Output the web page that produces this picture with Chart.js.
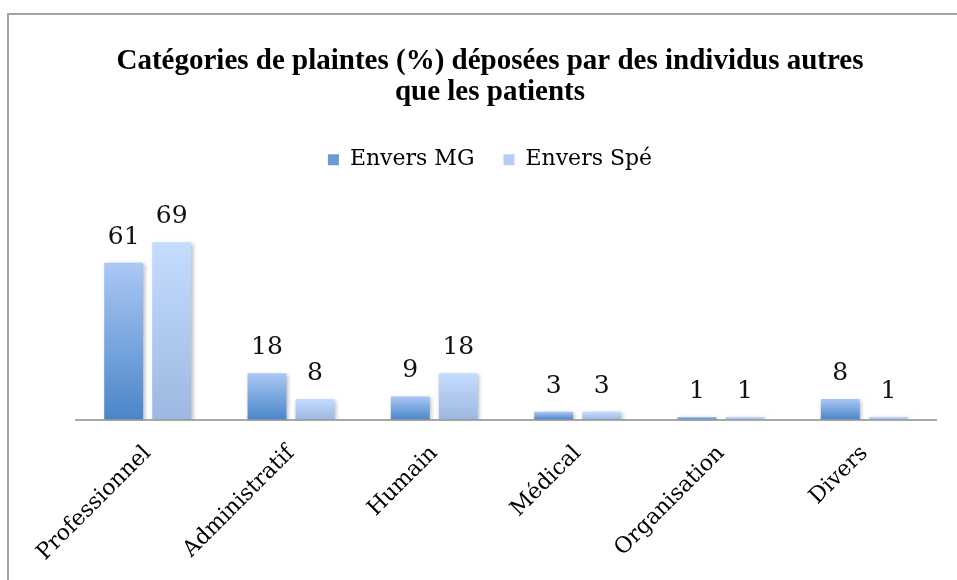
<!DOCTYPE html>
<html>
<head>
<meta charset="utf-8">
<script src="https://cdn.jsdelivr.net/npm/chart.js@4.4.0/dist/chart.umd.min.js"></script>
<style>
  html, body { margin: 0; padding: 0; background: #fff; overflow: hidden; }
  #frame {
    position: absolute; left: 7px; top: 13px;
    width: 962px; height: 600px;
    border-left: 2px solid #a3a3a3; border-top: 2px solid #a3a3a3;
  }
  #wrap { position: absolute; left: 0; top: 0; width: 962px; height: 572px; }
</style>
</head>
<body>
<div id="frame"><div id="wrap"><canvas id="plaintesChart"></canvas></div></div>
<script>
// Data
const categories = ['Professionnel', 'Administratif', 'Humain', 'Médical', 'Organisation', 'Divers'];
const enversMG = [61, 18, 9, 3, 1, 8];
const enversSpe = [69, 8, 18, 3, 1, 1];
const seriesNames = ['Envers MG', 'Envers Spé'];

const SERIF = '"DejaVu Serif", serif';

// vertical gradient per bar, light at the top, darker at the bottom
function barGradient(top, bottom) {
    return function (c) {
        const chart = c.chart;
        if (!chart.chartArea || c.type !== 'data') return bottom;
        const y = chart.scales.y;
        const y0 = y.getPixelForValue(0);
        const y1 = y.getPixelForValue(c.raw);
        if (Math.abs(y0 - y1) < 1) return bottom;
        const g = chart.ctx.createLinearGradient(0, y1, 0, y0);
        g.addColorStop(0, top);
        g.addColorStop(1, bottom);
        return g;
    };
}

// soft shadow under the bars + value labels on top
const barExtras = {
    id: 'barExtras',
    beforeDatasetsDraw(chart) {
        const ctx = chart.ctx;
        ctx.save();
        ctx.shadowColor = 'rgba(0,0,0,0.28)';
        ctx.shadowBlur = 4;
        ctx.shadowOffsetX = 1.5;
        ctx.shadowOffsetY = 1.5;
    },
    afterDatasetsDraw(chart) {
        const ctx = chart.ctx;
        ctx.restore();
        ctx.save();
        ctx.font = '25px ' + SERIF;
        ctx.fillStyle = '#111';
        ctx.textAlign = 'center';
        ctx.textBaseline = 'alphabetic';
        chart.data.datasets.forEach((ds, i) => {
            chart.getDatasetMeta(i).data.forEach((bar, j) => {
                ctx.fillText(String(ds.data[j]), bar.x, bar.y - 19);
            });
        });
        ctx.restore();
    }
};

const ctx = document.getElementById('plaintesChart').getContext('2d');
const plaintesChart = new Chart(ctx, {
    type: 'bar',
    data: {
        labels: categories,
        datasets: [{
            label: seriesNames[0],
            data: enversMG,
            backgroundColor: barGradient('#abc8f5', '#4a86c8'),
            legendColor: '#6c9ad6'
        }, {
            label: seriesNames[1],
            data: enversSpe,
            backgroundColor: barGradient('#c4dcff', '#9db8e0'),
            legendColor: '#b4cef4'
        }]
    },
    options: {
        responsive: true,
        maintainAspectRatio: false,
        animation: false,
        datasets: { bar: { categoryPercentage: 0.67, barPercentage: 0.81 } },
        layout: { padding: { left: 35, right: 35, top: 0, bottom: 0 } },
        plugins: {
            title: {
                display: true,
                text: ['Catégories de plaintes (%) déposées par des individus autres', 'que les patients'],
                font: { family: '"Liberation Serif", serif', size: 29, weight: 'bold', lineHeight: 1.08 },
                color: '#000',
                padding: { top: 31, bottom: 11 }
            },
            legend: {
                position: 'top',
                labels: {
                    font: { family: SERIF, size: 22 },
                    color: '#000',
                    boxWidth: 11,
                    boxHeight: 11,
                    padding: 29,
                    generateLabels(chart) {
                        return chart.data.datasets.map((ds, i) => ({
                            text: ds.label,
                            fillStyle: ds.legendColor,
                            strokeStyle: ds.legendColor,
                            lineWidth: 0,
                            datasetIndex: i
                        }));
                    }
                }
            },
            tooltip: { enabled: false }
        },
        scales: {
            x: {
                grid: { display: false, drawTicks: false },
                border: { color: '#a8a8a8', width: 2 },
                afterFit(scale) { scale.paddingLeft = 67; },
                ticks: {
                    autoSkip: false,
                    minRotation: 45,
                    maxRotation: 45,
                    padding: 21,
                    color: '#000',
                    font: { family: SERIF, size: 22 }
                }
            },
            y: {
                display: false,
                min: 0,
                max: 93
            }
        }
    },
    plugins: [barExtras]
});
</script>
</body>
</html>
